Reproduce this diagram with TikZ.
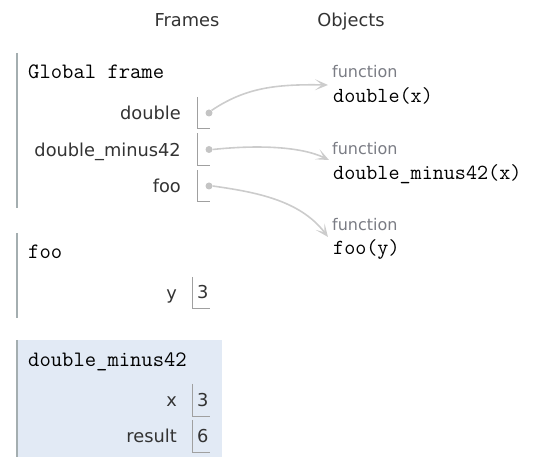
\documentclass[tikz,border=0pt]{standalone}
\usepackage{fontspec}
\setmainfont{DejaVu Sans}
\usetikzlibrary{arrows.meta}
\definecolor{barc}{HTML}{A4AEB0}
\definecolor{boxc}{HTML}{A0A0A0}
\definecolor{hilite}{HTML}{E2EAF5}
\definecolor{txt}{HTML}{333333}
\definecolor{fnc}{HTML}{7A7C84}
\definecolor{arrc}{HTML}{CCCCCC}
\definecolor{dotc}{HTML}{C4C4C4}
\tikzset{
  hdr/.style={inner sep=0pt, anchor=base, text=txt, font=\fontsize{17.8}{20}\selectfont},
  varname/.style={inner sep=0pt, anchor=base east, text=txt, font=\fontsize{17.8}{20}\selectfont},
  frametitle/.style={inner sep=0pt, anchor=base west, text=black, font=\ttfamily\fontsize{22}{24}\selectfont},
  fnlabel/.style={inner sep=0pt, anchor=base west, text=fnc, font=\fontsize{16}{18}\selectfont},
  fnsig/.style={inner sep=0pt, anchor=base west, text=black, font=\ttfamily\fontsize{21.5}{24}\selectfont},
  valtext/.style={inner sep=0pt, anchor=base west, text=txt, font=\fontsize{17.8}{20}\selectfont},
  bar/.style={draw=barc, line width=1.2pt},
  cell/.style={draw=boxc, line width=1pt},
  ptrdot/.style={circle, fill=dotc, inner sep=0pt, minimum size=7pt},
  ptr/.style={draw=arrc, line width=1.6pt, -{Stealth[length=13pt, width=11pt, inset=7pt]}}
}
\begin{document}
\begin{tikzpicture}[x=1pt, y=-1pt]
\useasboundingbox (0,0) rectangle (542,457);
% highlighted frame background
\fill[hilite] (17,340) rectangle (222,457);
% headers
\node[hdr] (hframes) at (187,27) {Frames};
\node[hdr] (hobjects) at (351,27) {Objects};
% global frame
\draw[bar] (17,53) -- (17,208);
\node[frametitle] (gtitle) at (28,79) {Global frame};
\node[varname] (vdouble) at (181,120) {double};
\node[varname] (vdm) at (181,156.5) {double\_minus42};
\node[varname] (vfoo) at (181,193) {foo};
\draw[cell] (197,97) -- (197,129) -- (210,129);
\draw[cell] (197,133.5) -- (197,165.5) -- (210,165.5);
\draw[cell] (197,170) -- (197,202) -- (210,202);
\node[ptrdot] (d1) at (209,113) {};
\node[ptrdot] (d2) at (209,149.5) {};
\node[ptrdot] (d3) at (209,186) {};
% objects
\node[fnlabel] (f1lab) at (332,78) {function};
\node[fnsig] (f1sig) at (333,103) {double(x)};
\node[fnlabel] (f2lab) at (332,155) {function};
\node[fnsig] (f2sig) at (333,180) {double\_minus42(x)};
\node[fnlabel] (f3lab) at (332,231) {function};
\node[fnsig] (f3sig) at (333,255) {foo(y)};
\coordinate (e1) at (328,85);
\coordinate (e2) at (329,160);
\coordinate (e3) at (328,237);
% pointers
\draw[ptr] (d1.north east) .. controls (245,88) and (275,84) .. (e1);
\draw[ptr] (d2.east) .. controls (255,145) and (300,146) .. (e2);
\draw[ptr] (d3.east) .. controls (255,192) and (300,200) .. (e3);
% foo frame
\draw[bar] (17,233) -- (17,318);
\node[frametitle] (ftitle) at (28,259) {foo};
\node[varname] (vy) at (177,300) {y};
\draw[cell] (192,277) -- (192,309) -- (210,309);
\node[valtext] (vy3) at (197,299) {3};
% double_minus42 frame
\draw[bar] (17,340) -- (17,457);
\node[frametitle] (dtitle) at (28,367) {double\_minus42};
\node[varname] (vx) at (177,407) {x};
\draw[cell] (192,384) -- (192,417) -- (210,417);
\node[valtext] (vx3) at (197,407) {3};
\node[varname] (vres) at (177,443) {result};
\draw[cell] (192,420) -- (192,453) -- (210,453);
\node[valtext] (vres6) at (197,443) {6};
\end{tikzpicture}
\end{document}
